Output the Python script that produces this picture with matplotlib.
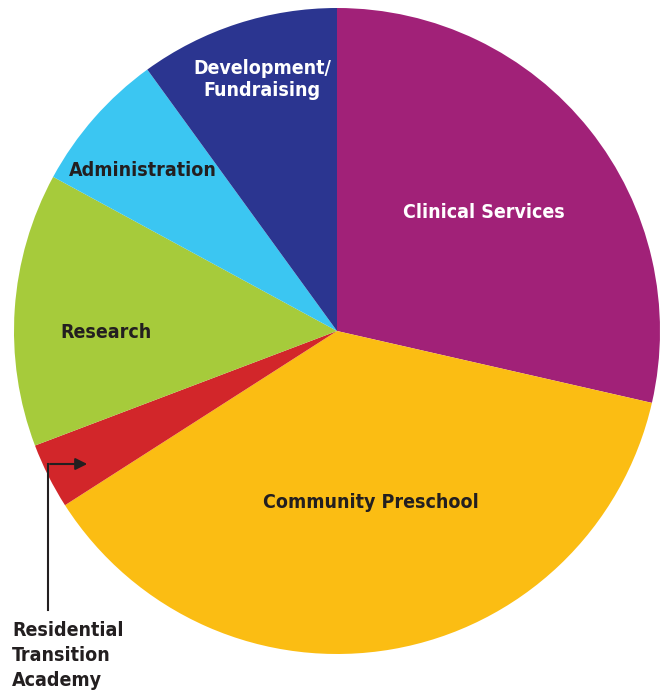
import matplotlib
matplotlib.use('Agg')
import matplotlib.pyplot as plt

# budget shares, clockwise from 12 o'clock
labels = ['Clinical Services', 'Community Preschool', 'Residential Transition Academy',
          'Research', 'Administration', 'Development/\nFundraising']
shares = [28.6, 37.4, 3.3, 13.7, 7.1, 10.0]
colors = ['#A12178', '#FBBD13', '#D2262A', '#A6CB3B', '#3BC6F2', '#2B3590']

plt.rcParams['font.family'] = ['DejaVu Sans']
plt.rcParams['font.stretch'] = 'condensed'

W, H = 662, 696
fig = plt.figure(figsize=(W / 100, H / 100), dpi=100)

# pie centre at (337, 331) px, radius 323 px
cx, cy, r = 337, 331, 323
ax = fig.add_axes([(cx - r) / W, (H - cy - r) / H, 2 * r / W, 2 * r / H])
ax.pie(shares, colors=colors, startangle=90, counterclock=False,
       wedgeprops={'linewidth': 0})
ax.set_xlim(-1, 1)
ax.set_ylim(-1, 1)
ax.set_aspect('equal')
ax.axis('off')

dark = '#231F20'

def px(x, y):
    return x / W, 1 - y / H

txt = dict(fontsize=14, fontweight='bold', ha='center', va='center')
fig.text(*px(484, 213), labels[0], color='white', **txt)
fig.text(*px(371, 503), labels[1], color=dark, **txt)
fig.text(*px(106, 333), labels[3], color=dark, **txt)
fig.text(*px(143, 171), labels[4], color=dark, **txt)
fig.text(*px(262, 79), labels[5], color='white', linespacing=1.2, **txt)

# callout for the small slice
fig.text(*px(12, 621), 'Residential\nTransition\nAcademy', color=dark, fontsize=14,
         fontweight='bold', ha='left', va='top', linespacing=1.4)
fig.add_artist(plt.Line2D([48 / W, 48 / W], [1 - 610 / H, 1 - 464 / H],
                          color=dark, lw=1.5))
fig.add_artist(matplotlib.patches.FancyArrowPatch(
    px(47.3, 464), px(90, 464), transform=fig.transFigure,
    arrowstyle='-|>,head_length=7,head_width=3.5', color=dark, lw=1.5))

fig.savefig('out.png', dpi=100)
